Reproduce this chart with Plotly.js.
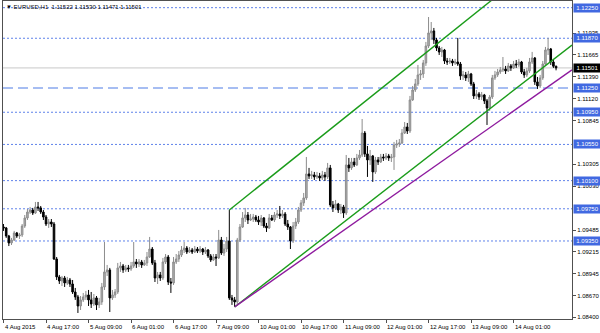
<!DOCTYPE html>
<html>
<head>
<meta charset="utf-8">
<script src="https://cdn.plot.ly/plotly-3.0.1.min.js"></script>
<style>html,body{margin:0;padding:0;background:#fff;}#chart{width:600px;height:333px;}</style>
</head>
<body>
<div id="chart"></div>
<script>
// EURUSD H1 candles
const openP = [1.09524,1.09512,1.09412,1.09325,1.09362,1.09450,1.09412,1.09425,1.09536,1.09636,
1.09710,1.09735,1.09698,1.09773,1.09761,1.09710,1.09648,1.09561,1.09586,1.09561,
1.09126,1.08903,1.08853,1.08890,1.08828,1.08865,1.08815,1.08716,1.08654,1.08542,
1.08617,1.08654,1.08679,1.08617,1.08567,1.08642,1.08555,1.08592,1.08778,1.08965,
1.08990,1.08642,1.08679,1.08716,1.09015,1.09039,1.08990,1.09015,1.09002,1.09039,
1.09089,1.09064,1.09089,1.09052,1.09077,1.09151,1.09250,1.09077,1.08890,1.08928,
1.08890,1.09089,1.09151,1.08840,1.08828,1.09089,1.09126,1.09176,1.09238,1.09263,
1.09213,1.09238,1.09213,1.09250,1.09225,1.09250,1.09213,1.09238,1.09164,1.09114,
1.09151,1.09139,1.09362,1.09200,1.09250,1.09350,1.08642,1.08617,1.08592,1.09362,
1.09524,1.09636,1.09673,1.09611,1.09623,1.09648,1.09611,1.09586,1.09636,1.09536,
1.09512,1.09636,1.09611,1.09673,1.09686,1.09661,1.09686,1.09561,1.09524,1.09350,
1.09536,1.09586,1.09735,1.09823,1.09885,1.10183,1.10158,1.10171,1.10146,1.10158,
1.10133,1.10171,1.10146,1.10258,1.09798,1.09761,1.09810,1.09735,1.09773,1.09698,
1.10295,1.10258,1.10332,1.10295,1.10382,1.10419,1.10692,1.10432,1.10357,1.10407,
1.10208,1.10357,1.10332,1.10394,1.10382,1.10407,1.10382,1.10394,1.10543,1.10556,
1.10568,1.10692,1.10767,1.10717,1.11103,1.11227,1.11302,1.11414,1.11426,1.11563,
1.11774,1.11936,1.11961,1.11849,1.11749,1.11699,1.11724,1.11588,1.11575,1.11588,
1.11563,1.11575,1.11550,1.11401,1.11414,1.11377,1.11426,1.11302,1.11153,1.11178,
1.11140,1.11165,1.11091,1.11004,1.11140,1.11377,1.11414,1.11451,1.11476,1.11488,
1.11464,1.11526,1.11501,1.11550,1.11538,1.11575,1.11451,1.11414,1.11464,1.11575,
1.11625,1.11327,1.11277,1.11377,1.11550,1.11724,1.11737,1.11575,1.11522];

const highP = [1.09561,1.09524,1.09425,1.09388,1.09475,1.09462,1.09450,1.09561,1.09673,1.09748,
1.09773,1.09761,1.09835,1.09835,1.09785,1.09735,1.09673,1.09623,1.09623,1.09586,
1.09151,1.08928,1.08915,1.08915,1.08903,1.08890,1.08865,1.08766,1.08679,1.08666,
1.08704,1.08729,1.08741,1.08716,1.08691,1.08666,1.08642,1.08828,1.09337,1.09052,
1.09015,1.08741,1.08753,1.09077,1.09089,1.09064,1.09052,1.09052,1.09089,1.09337,
1.09126,1.09126,1.09114,1.09114,1.09213,1.09400,1.09275,1.09114,1.08965,1.08965,
1.09139,1.09188,1.09176,1.08890,1.09151,1.09188,1.09225,1.09287,1.09337,1.09287,
1.09275,1.09263,1.09287,1.09275,1.09287,1.09263,1.09275,1.09250,1.09188,1.09188,
1.09188,1.09487,1.09400,1.09313,1.09400,1.09735,1.08679,1.08654,1.09388,1.09561,
1.09710,1.09761,1.09710,1.09686,1.09686,1.09673,1.09661,1.09673,1.09648,1.09574,
1.09686,1.09673,1.09710,1.09735,1.09785,1.09735,1.09710,1.09611,1.09536,1.09586,
1.09636,1.09773,1.09860,1.09947,1.10394,1.10258,1.10221,1.10208,1.10208,1.10196,
1.10221,1.10208,1.10320,1.10295,1.09847,1.09860,1.09823,1.09810,1.09798,1.10419,
1.10382,1.10382,1.10382,1.10432,1.10481,1.10866,1.10717,1.10531,1.10481,1.10419,
1.10394,1.10394,1.10432,1.10432,1.10444,1.10432,1.10432,1.10581,1.10606,1.10618,
1.10742,1.10829,1.10817,1.11153,1.11277,1.11364,1.11538,1.11476,1.11600,1.11824,
1.12134,1.12072,1.11998,1.11874,1.11774,1.11762,1.11737,1.11625,1.11625,1.11613,
1.11613,1.11874,1.11575,1.11464,1.11451,1.11464,1.11439,1.11327,1.11227,1.11202,
1.11202,1.11178,1.11115,1.11165,1.11414,1.11464,1.11488,1.11513,1.11637,1.11526,
1.11563,1.11550,1.11588,1.11600,1.11613,1.11588,1.11488,1.11501,1.11625,1.11700,
1.11637,1.11389,1.11414,1.11588,1.11762,1.11874,1.11749,1.11600,1.11530];

const lowP = [1.09475,1.09388,1.09287,1.09300,1.09350,1.09388,1.09375,1.09400,1.09512,1.09611,
1.09686,1.09673,1.09686,1.09723,1.09686,1.09611,1.09536,1.09512,1.09524,1.09114,
1.08865,1.08815,1.08790,1.08778,1.08803,1.08778,1.08691,1.08617,1.08455,1.08492,
1.08592,1.08617,1.08542,1.08517,1.08542,1.08492,1.08517,1.08555,1.08741,1.08915,
1.08467,1.08617,1.08642,1.08691,1.08965,1.08953,1.08965,1.08965,1.08978,1.09015,
1.09015,1.09027,1.09015,1.09039,1.09039,1.09139,1.09052,1.08840,1.08815,1.08853,
1.08865,1.09064,1.08803,1.08704,1.08803,1.09064,1.09089,1.09151,1.09200,1.09188,
1.09200,1.09188,1.09200,1.09200,1.09200,1.09176,1.09188,1.09139,1.09089,1.09102,
1.09039,1.09126,1.09176,1.09164,1.09213,1.08617,1.08555,1.08530,1.08567,1.09337,
1.09512,1.09586,1.09561,1.09598,1.09586,1.09586,1.09549,1.09536,1.09512,1.09462,
1.09499,1.09598,1.09586,1.09636,1.09623,1.09636,1.09536,1.09487,1.09250,1.09325,
1.09499,1.09561,1.09710,1.09785,1.09860,1.10121,1.10121,1.10108,1.10121,1.10096,
1.10108,1.10096,1.10121,1.09773,1.09710,1.09735,1.09698,1.09686,1.09636,1.09673,
1.10208,1.10233,1.10270,1.10283,1.10357,1.10394,1.10394,1.10146,1.10295,1.10084,
1.10183,1.10295,1.10320,1.10345,1.10357,1.10345,1.10332,1.10233,1.10506,1.10519,
1.10556,1.10680,1.10680,1.10692,1.11091,1.11202,1.11277,1.11352,1.11377,1.11526,
1.11749,1.11849,1.11799,1.11712,1.11662,1.11637,1.11550,1.11538,1.11550,1.11526,
1.11538,1.11526,1.11352,1.11352,1.11339,1.11327,1.11277,1.11115,1.11115,1.11103,
1.11103,1.11053,1.10792,1.10966,1.11115,1.11352,1.11389,1.11426,1.11451,1.11426,
1.11451,1.11464,1.11488,1.11501,1.11513,1.11426,1.11377,1.11389,1.11439,1.11550,
1.11290,1.11240,1.11252,1.11352,1.11526,1.11662,1.11538,1.11501,1.11471];

const closeP = [1.09512,1.09412,1.09325,1.09362,1.09450,1.09412,1.09425,1.09536,1.09636,1.09710,
1.09735,1.09698,1.09773,1.09761,1.09710,1.09648,1.09561,1.09586,1.09561,1.09126,
1.08903,1.08853,1.08890,1.08828,1.08865,1.08815,1.08716,1.08654,1.08542,1.08617,
1.08654,1.08679,1.08617,1.08567,1.08642,1.08555,1.08592,1.08778,1.08965,1.08990,
1.08642,1.08679,1.08716,1.09015,1.09039,1.08990,1.09015,1.09002,1.09039,1.09089,
1.09064,1.09089,1.09052,1.09077,1.09151,1.09250,1.09077,1.08890,1.08928,1.08890,
1.09089,1.09151,1.08840,1.08828,1.09089,1.09126,1.09176,1.09238,1.09263,1.09213,
1.09238,1.09213,1.09250,1.09225,1.09250,1.09213,1.09238,1.09164,1.09114,1.09151,
1.09139,1.09362,1.09200,1.09250,1.09350,1.08642,1.08617,1.08592,1.09362,1.09524,
1.09636,1.09673,1.09611,1.09623,1.09648,1.09611,1.09586,1.09636,1.09536,1.09512,
1.09636,1.09611,1.09673,1.09686,1.09661,1.09686,1.09561,1.09524,1.09350,1.09536,
1.09586,1.09735,1.09823,1.09885,1.10183,1.10158,1.10171,1.10146,1.10158,1.10133,
1.10171,1.10146,1.10258,1.09798,1.09761,1.09810,1.09735,1.09773,1.09698,1.10295,
1.10258,1.10332,1.10295,1.10382,1.10419,1.10692,1.10432,1.10357,1.10407,1.10208,
1.10357,1.10332,1.10394,1.10382,1.10407,1.10382,1.10394,1.10543,1.10556,1.10568,
1.10692,1.10767,1.10717,1.11103,1.11227,1.11302,1.11414,1.11426,1.11563,1.11774,
1.11936,1.11961,1.11849,1.11749,1.11699,1.11724,1.11588,1.11575,1.11588,1.11563,
1.11575,1.11550,1.11401,1.11414,1.11377,1.11426,1.11302,1.11153,1.11178,1.11140,
1.11165,1.11091,1.11004,1.11140,1.11377,1.11414,1.11451,1.11476,1.11488,1.11464,
1.11526,1.11501,1.11550,1.11538,1.11575,1.11451,1.11414,1.11464,1.11575,1.11625,
1.11327,1.11277,1.11377,1.11550,1.11724,1.11737,1.11575,1.11522,1.11501];

// time axis labels (every 16 bars)
const timeTickIdx = [0,16,32,48,64,80,96,112,128,144,160,176,192];
const timeTickText = ['4 Aug 2015','4 Aug 17:00','5 Aug 09:00','6 Aug 01:00','6 Aug 17:00','7 Aug 09:00','10 Aug 01:00','10 Aug 17:00','11 Aug 09:00','12 Aug 01:00','12 Aug 17:00','13 Aug 09:00','14 Aug 01:00'];

// price scale labels (those hidden under level boxes left out)
const priceTicks = [1.08400,1.08670,1.08945,1.09215,1.09485,1.10030,1.10305,1.10845,1.11120,1.11390,1.11665,1.11935];
const priceTickText = ['1.08400','1.08670','1.08945','1.09215','1.09485','1.10030','1.10305','1.10845','1.11120','1.11390','1.11665','1.11935'];

// horizontal levels
const dottedLevels = [1.12250,1.11870,1.10950,1.10550,1.10100,1.09750,1.09350];
const dashedLevels = [1.11250];
const labelLevels = [1.12250,1.11870,1.11250,1.10950,1.10550,1.10100,1.09750,1.09350];
const bidPrice = 1.11501;

// trend channel (bar index, price)
const upperChannelX = [85,210];
const upperChannelY = [1.09735,1.13036];
const lowerChannelX = [87,214];
const lowerChannelY = [1.08530,1.11786];
const purpleLineX = [87,214];
const purpleLineY = [1.08530,1.11476];

const titleText = '▼ EURUSD,H1  1.11522 1.11530 1.11471 1.11501';

const FONT = 'Liberation Sans, Arial, sans-serif';
const xIdx = closeP.map((_, i) => i);

const trace = {
  type: 'candlestick',
  x: xIdx, open: openP, high: highP, low: lowP, close: closeP,
  increasing: {line: {color: '#8c8c8c', width: 1}, fillcolor: '#b0b0b0'},
  decreasing: {line: {color: '#000000', width: 1}, fillcolor: '#000000'},
  whiskerwidth: 0,
  hoverinfo: 'skip'
};

const shapes = [];
dottedLevels.forEach(v => shapes.push({type:'line', xref:'paper', x0:0, x1:1, yref:'y', y0:v, y1:v, layer:'below', line:{color:'#5f82ea', width:1, dash:'2px,2px'}}));
dashedLevels.forEach(v => shapes.push({type:'line', xref:'paper', x0:0, x1:1, yref:'y', y0:v, y1:v, layer:'below', line:{color:'#a6bdf2', width:2, dash:'10px,5px'}}));
shapes.push({type:'line', xref:'paper', x0:0, x1:1, yref:'y', y0:bidPrice, y1:bidPrice, layer:'below', line:{color:'#c8c8c8', width:1}});
shapes.push({type:'line', xref:'x', yref:'y', x0:upperChannelX[0], x1:upperChannelX[1], y0:upperChannelY[0], y1:upperChannelY[1], layer:'above', line:{color:'#1a9c1a', width:1.4}});
shapes.push({type:'line', xref:'x', yref:'y', x0:lowerChannelX[0], x1:lowerChannelX[1], y0:lowerChannelY[0], y1:lowerChannelY[1], layer:'above', line:{color:'#1a9c1a', width:1.4}});
shapes.push({type:'line', xref:'x', yref:'y', x0:purpleLineX[0], x1:purpleLineX[1], y0:purpleLineY[0], y1:purpleLineY[1], layer:'above', line:{color:'#8e1a9e', width:1.4}});

const annotations = [];
labelLevels.forEach(v => annotations.push({xref:'paper', x:1, xanchor:'left', xshift:1, yref:'y', y:v, yanchor:'middle',
  text: v.toFixed(5), showarrow:false, bgcolor:'#4169e1', font:{family:FONT, size:6, color:'#ffffff'}, borderpad:1, width:25}));
annotations.push({xref:'paper', x:1, xanchor:'left', xshift:1, yref:'y', y:bidPrice, yanchor:'middle',
  text: bidPrice.toFixed(5), showarrow:false, bgcolor:'#000000', font:{family:FONT, size:6, color:'#ffffff'}, borderpad:1, width:25});
timeTickIdx.forEach((t, k) => annotations.push({xref:'x', x:t, xanchor:'left', xshift:-1, yref:'paper', y:0, yanchor:'top', yshift:-3,
  text: timeTickText[k], showarrow:false, font:{family:FONT, size:6, color:'#000000'}}));
annotations.push({xref:'paper', x:0, xanchor:'left', xshift:1, yref:'paper', y:1, yanchor:'top', yshift:-1,
  text: titleText, showarrow:false, font:{family:FONT, size:6, color:'#000000'}});

const layout = {
  width: 600, height: 333,
  margin: {l:3, r:28, t:1, b:14, pad:0},
  paper_bgcolor: '#ffffff', plot_bgcolor: '#ffffff',
  showlegend: false,
  boxgap: 0.15,
  xaxis: {range:[-0.2, 214], type:'linear', rangeslider:{visible:false}, showgrid:false, zeroline:false,
    showline:true, mirror:true, linecolor:'#505050', linewidth:1,
    tickmode:'array', tickvals: timeTickIdx, ticks:'outside', ticklen:3, tickcolor:'#505050', showticklabels:false, fixedrange:true},
  yaxis: {range:[1.08380, 1.12333], side:'right', showgrid:false, zeroline:false,
    showline:true, mirror:true, linecolor:'#505050', linewidth:1,
    tickmode:'array', tickvals: priceTicks, ticktext: priceTickText, ticks:'outside', ticklen:3, tickcolor:'#505050',
    tickfont:{family:FONT, size:6, color:'#000000'}, fixedrange:true},
  shapes: shapes,
  annotations: annotations
};

Plotly.newPlot('chart', [trace], layout, {staticPlot:true, displayModeBar:false});
</script>
</body>
</html>
